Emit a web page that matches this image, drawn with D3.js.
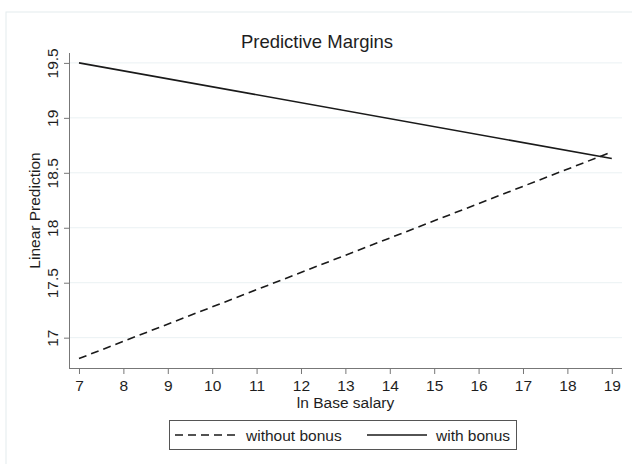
<!DOCTYPE html>
<html>
<head>
<meta charset="utf-8">
<script src="https://cdn.jsdelivr.net/npm/d3@7"></script>
<style>
  body { margin: 0; background: #fff; }
  text { font-family: "Liberation Sans", Arial, sans-serif; fill: #1e1e1e; }
  .axis path, .axis line { stroke: #777; }
</style>
</head>
<body>
<div id="chart"></div>
<script>
// data
var xTicks = [7, 8, 9, 10, 11, 12, 13, 14, 15, 16, 17, 18, 19];
var yTicks = [17, 17.5, 18, 18.5, 19, 19.5];
var salary = [7, 19];
var withoutBonus = [16.81, 18.69];
var withBonus = [19.50, 18.63];
var seriesNames = ["without bonus", "with bonus"];

var width = 632, height = 464;
var plot = {left: 69, right: 622, top: 53, bottom: 368};

var svg = d3.select("#chart").append("svg")
  .attr("width", width)
  .attr("height", height);

// outer frame
svg.append("rect")
  .attr("x", 6).attr("y", 12)
  .attr("width", 640).attr("height", 470)
  .attr("fill", "none")
  .attr("stroke", "#e4ecee");

// scales
var x = d3.scaleLinear().domain([6.775, 19.23]).range([plot.left, plot.right]);
var y = d3.scaleLinear().domain([16.724, 19.59]).range([plot.bottom, plot.top]);

// gridlines
svg.append("g").selectAll("line")
  .data(yTicks)
  .enter().append("line")
  .attr("x1", plot.left).attr("x2", plot.right)
  .attr("y1", function(d){ return y(d); })
  .attr("y2", function(d){ return y(d); })
  .attr("stroke", "#eaf1f3")
  .attr("stroke-width", 1);

// title
svg.append("text")
  .attr("x", 317).attr("y", 48)
  .attr("text-anchor", "middle")
  .style("font-size", "18.5px")
  .text("Predictive Margins");

// axes
var xAxis = d3.axisBottom(x).tickValues(xTicks).tickSize(6).tickSizeOuter(0).tickPadding(6);
var yAxis = d3.axisLeft(y).tickValues(yTicks).tickSize(5).tickSizeOuter(0).tickFormat(d3.format(""));

var gx = svg.append("g")
  .attr("class", "axis x-axis")
  .attr("transform", "translate(0," + plot.bottom + ")")
  .call(xAxis);
gx.select(".domain").attr("d", "M" + plot.left + ",0.5H" + plot.right);
gx.selectAll("text").style("font-size", "15.5px").attr("fill", "#1e1e1e");

var gy = svg.append("g")
  .attr("class", "axis y-axis")
  .attr("transform", "translate(" + plot.left + ",0)")
  .call(yAxis);
gy.select(".domain").attr("d", "M0.5," + plot.top + "V" + plot.bottom);
gy.selectAll("text")
  .style("font-size", "15.5px")
  .attr("fill", "#1e1e1e")
  .attr("text-anchor", "middle")
  .attr("transform", "rotate(-90)")
  .attr("x", 0).attr("y", -11).attr("dy", null);

// axis titles
svg.append("text")
  .attr("x", (plot.left + plot.right) / 2).attr("y", 408)
  .attr("text-anchor", "middle")
  .style("font-size", "15.5px")
  .text("ln Base salary");

svg.append("text")
  .attr("text-anchor", "middle")
  .attr("transform", "translate(40," + ((plot.top + plot.bottom) / 2) + ")rotate(-90)")
  .style("font-size", "15.5px")
  .text("Linear Prediction");

// lines
var line = d3.line()
  .x(function(d){ return x(d[0]); })
  .y(function(d){ return y(d[1]); });

svg.append("path")
  .attr("d", line(d3.zip(salary, withoutBonus)))
  .attr("fill", "none")
  .attr("stroke", "#1a1a1a")
  .attr("stroke-width", 1.6)
  .attr("stroke-dasharray", "8,5");

svg.append("path")
  .attr("d", line(d3.zip(salary, withBonus)))
  .attr("fill", "none")
  .attr("stroke", "#1a1a1a")
  .attr("stroke-width", 1.6);

// legend
var legend = svg.append("g");
legend.append("rect")
  .attr("x", 169.5).attr("y", 420.5)
  .attr("width", 347).attr("height", 29)
  .attr("fill", "#fff")
  .attr("stroke", "#555");

legend.append("line")
  .attr("x1", 175).attr("x2", 236).attr("y1", 435).attr("y2", 435)
  .attr("stroke", "#1a1a1a").attr("stroke-width", 1.6)
  .attr("stroke-dasharray", "8,5");
legend.append("text")
  .attr("x", 246).attr("y", 440.5)
  .style("font-size", "15.5px")
  .text(seriesNames[0]);

legend.append("line")
  .attr("x1", 367).attr("x2", 427).attr("y1", 435).attr("y2", 435)
  .attr("stroke", "#1a1a1a").attr("stroke-width", 1.6);
legend.append("text")
  .attr("x", 436).attr("y", 440.5)
  .style("font-size", "15.5px")
  .text(seriesNames[1]);
</script>
</body>
</html>
